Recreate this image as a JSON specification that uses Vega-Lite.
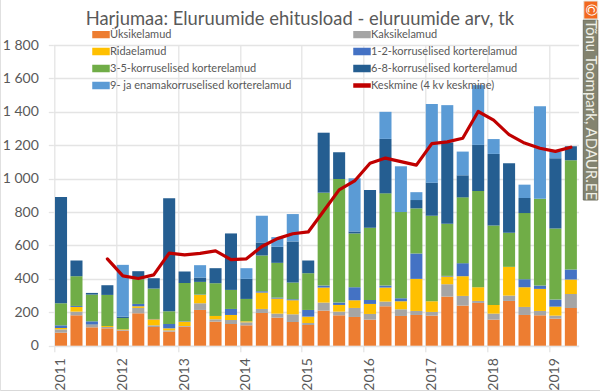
{
"$schema":"https://vega.github.io/schema/vega-lite/v6.json",
"width":525.3,"height":300.7,
"autosize":"none",
"padding":{"left":53.3,"top":45,"right":21.4,"bottom":46.3},
"background":"white",
"config":{"font":"Lato","view":{"stroke":null}},
"title":{"text":"Harjumaa: Eluruumide ehitusload - eluruumide arv, tk","font":"Lato","fontSize":18.4,"fontWeight":"normal","color":"#595959","anchor":"middle","frame":"group","dx":-16,"offset":-44},
"datasets":{
"bars":[
{"q":"2011Q1","n":1,"s":"Üksikelamud","v":78},{"q":"2011Q1","n":2,"s":"Kaksikelamud","v":20},{"q":"2011Q1","n":3,"s":"Ridaelamud","v":8},{"q":"2011Q1","n":4,"s":"1-2-korruselised korterelamud","v":16},{"q":"2011Q1","n":5,"s":"3-5-korruselised korterelamud","v":132},{"q":"2011Q1","n":6,"s":"6-8-korruselised korterelamud","v":636},
{"q":"2011Q2","n":1,"s":"Üksikelamud","v":182},{"q":"2011Q2","n":2,"s":"Kaksikelamud","v":22},{"q":"2011Q2","n":3,"s":"Ridaelamud","v":28},{"q":"2011Q2","n":4,"s":"1-2-korruselised korterelamud","v":6},{"q":"2011Q2","n":5,"s":"3-5-korruselised korterelamud","v":178},{"q":"2011Q2","n":6,"s":"6-8-korruselised korterelamud","v":94},
{"q":"2011Q3","n":1,"s":"Üksikelamud","v":110},{"q":"2011Q3","n":2,"s":"Kaksikelamud","v":14},{"q":"2011Q3","n":3,"s":"Ridaelamud","v":2},{"q":"2011Q3","n":4,"s":"1-2-korruselised korterelamud","v":20},{"q":"2011Q3","n":5,"s":"3-5-korruselised korterelamud","v":160},{"q":"2011Q3","n":6,"s":"6-8-korruselised korterelamud","v":10},
{"q":"2011Q4","n":1,"s":"Üksikelamud","v":104},{"q":"2011Q4","n":2,"s":"Kaksikelamud","v":8},{"q":"2011Q4","n":3,"s":"Ridaelamud","v":6},{"q":"2011Q4","n":5,"s":"3-5-korruselised korterelamud","v":186},{"q":"2011Q4","n":6,"s":"6-8-korruselised korterelamud","v":58},
{"q":"2012Q1","n":1,"s":"Üksikelamud","v":90},{"q":"2012Q1","n":2,"s":"Kaksikelamud","v":4},{"q":"2012Q1","n":3,"s":"Ridaelamud","v":4},{"q":"2012Q1","n":5,"s":"3-5-korruselised korterelamud","v":68},{"q":"2012Q1","n":6,"s":"6-8-korruselised korterelamud","v":8},{"q":"2012Q1","n":7,"s":"9- ja enamakorruselised korterelamud","v":310},
{"q":"2012Q2","n":1,"s":"Üksikelamud","v":194},{"q":"2012Q2","n":2,"s":"Kaksikelamud","v":32},{"q":"2012Q2","n":3,"s":"Ridaelamud","v":10},{"q":"2012Q2","n":4,"s":"1-2-korruselised korterelamud","v":14},{"q":"2012Q2","n":5,"s":"3-5-korruselised korterelamud","v":148},{"q":"2012Q2","n":6,"s":"6-8-korruselised korterelamud","v":48},
{"q":"2012Q3","n":1,"s":"Üksikelamud","v":112},{"q":"2012Q3","n":2,"s":"Kaksikelamud","v":10},{"q":"2012Q3","n":3,"s":"Ridaelamud","v":36},{"q":"2012Q3","n":4,"s":"1-2-korruselised korterelamud","v":2},{"q":"2012Q3","n":5,"s":"3-5-korruselised korterelamud","v":182},{"q":"2012Q3","n":6,"s":"6-8-korruselised korterelamud","v":62},
{"q":"2012Q4","n":1,"s":"Üksikelamud","v":84},{"q":"2012Q4","n":2,"s":"Kaksikelamud","v":8},{"q":"2012Q4","n":3,"s":"Ridaelamud","v":12},{"q":"2012Q4","n":4,"s":"1-2-korruselised korterelamud","v":26},{"q":"2012Q4","n":5,"s":"3-5-korruselised korterelamud","v":76},{"q":"2012Q4","n":6,"s":"6-8-korruselised korterelamud","v":676},
{"q":"2013Q1","n":1,"s":"Üksikelamud","v":114},{"q":"2013Q1","n":2,"s":"Kaksikelamud","v":4},{"q":"2013Q1","n":3,"s":"Ridaelamud","v":26},{"q":"2013Q1","n":4,"s":"1-2-korruselised korterelamud","v":2},{"q":"2013Q1","n":5,"s":"3-5-korruselised korterelamud","v":230},{"q":"2013Q1","n":6,"s":"6-8-korruselised korterelamud","v":68},
{"q":"2013Q2","n":1,"s":"Üksikelamud","v":214},{"q":"2013Q2","n":2,"s":"Kaksikelamud","v":40},{"q":"2013Q2","n":3,"s":"Ridaelamud","v":50},{"q":"2013Q2","n":4,"s":"1-2-korruselised korterelamud","v":2},{"q":"2013Q2","n":5,"s":"3-5-korruselised korterelamud","v":76},{"q":"2013Q2","n":6,"s":"6-8-korruselised korterelamud","v":26},{"q":"2013Q2","n":7,"s":"9- ja enamakorruselised korterelamud","v":74},
{"q":"2013Q3","n":1,"s":"Üksikelamud","v":144},{"q":"2013Q3","n":2,"s":"Kaksikelamud","v":14},{"q":"2013Q3","n":3,"s":"Ridaelamud","v":20},{"q":"2013Q3","n":5,"s":"3-5-korruselised korterelamud","v":196},{"q":"2013Q3","n":6,"s":"6-8-korruselised korterelamud","v":90},
{"q":"2013Q4","n":1,"s":"Üksikelamud","v":130},{"q":"2013Q4","n":2,"s":"Kaksikelamud","v":24},{"q":"2013Q4","n":3,"s":"Ridaelamud","v":30},{"q":"2013Q4","n":4,"s":"1-2-korruselised korterelamud","v":36},{"q":"2013Q4","n":5,"s":"3-5-korruselised korterelamud","v":114},{"q":"2013Q4","n":6,"s":"6-8-korruselised korterelamud","v":338},
{"q":"2014Q1","n":1,"s":"Üksikelamud","v":122},{"q":"2014Q1","n":2,"s":"Kaksikelamud","v":18},{"q":"2014Q1","n":3,"s":"Ridaelamud","v":6},{"q":"2014Q1","n":5,"s":"3-5-korruselised korterelamud","v":134},{"q":"2014Q1","n":6,"s":"6-8-korruselised korterelamud","v":120},{"q":"2014Q1","n":7,"s":"9- ja enamakorruselised korterelamud","v":64},
{"q":"2014Q2","n":1,"s":"Üksikelamud","v":196},{"q":"2014Q2","n":2,"s":"Kaksikelamud","v":24},{"q":"2014Q2","n":3,"s":"Ridaelamud","v":98},{"q":"2014Q2","n":4,"s":"1-2-korruselised korterelamud","v":8},{"q":"2014Q2","n":5,"s":"3-5-korruselised korterelamud","v":214},{"q":"2014Q2","n":6,"s":"6-8-korruselised korterelamud","v":78},{"q":"2014Q2","n":7,"s":"9- ja enamakorruselised korterelamud","v":160},
{"q":"2014Q3","n":1,"s":"Üksikelamud","v":168},{"q":"2014Q3","n":2,"s":"Kaksikelamud","v":24},{"q":"2014Q3","n":3,"s":"Ridaelamud","v":90},{"q":"2014Q3","n":4,"s":"1-2-korruselised korterelamud","v":6},{"q":"2014Q3","n":5,"s":"3-5-korruselised korterelamud","v":208},{"q":"2014Q3","n":6,"s":"6-8-korruselised korterelamud","v":96},{"q":"2014Q3","n":7,"s":"9- ja enamakorruselised korterelamud","v":58},
{"q":"2014Q4","n":1,"s":"Üksikelamud","v":142},{"q":"2014Q4","n":2,"s":"Kaksikelamud","v":46},{"q":"2014Q4","n":3,"s":"Ridaelamud","v":84},{"q":"2014Q4","n":4,"s":"1-2-korruselised korterelamud","v":6},{"q":"2014Q4","n":5,"s":"3-5-korruselised korterelamud","v":100},{"q":"2014Q4","n":6,"s":"6-8-korruselised korterelamud","v":246},{"q":"2014Q4","n":7,"s":"9- ja enamakorruselised korterelamud","v":164},
{"q":"2015Q1","n":1,"s":"Üksikelamud","v":124},{"q":"2015Q1","n":2,"s":"Kaksikelamud","v":12},{"q":"2015Q1","n":3,"s":"Ridaelamud","v":38},{"q":"2015Q1","n":4,"s":"1-2-korruselised korterelamud","v":40},{"q":"2015Q1","n":5,"s":"3-5-korruselised korterelamud","v":220},{"q":"2015Q1","n":6,"s":"6-8-korruselised korterelamud","v":76},
{"q":"2015Q2","n":1,"s":"Üksikelamud","v":210},{"q":"2015Q2","n":2,"s":"Kaksikelamud","v":48},{"q":"2015Q2","n":3,"s":"Ridaelamud","v":90},{"q":"2015Q2","n":4,"s":"1-2-korruselised korterelamud","v":12},{"q":"2015Q2","n":5,"s":"3-5-korruselised korterelamud","v":556},{"q":"2015Q2","n":6,"s":"6-8-korruselised korterelamud","v":359},
{"q":"2015Q3","n":1,"s":"Üksikelamud","v":182},{"q":"2015Q3","n":2,"s":"Kaksikelamud","v":22},{"q":"2015Q3","n":3,"s":"Ridaelamud","v":40},{"q":"2015Q3","n":4,"s":"1-2-korruselised korterelamud","v":14},{"q":"2015Q3","n":5,"s":"3-5-korruselised korterelamud","v":740},{"q":"2015Q3","n":6,"s":"6-8-korruselised korterelamud","v":160},
{"q":"2015Q4","n":1,"s":"Üksikelamud","v":172},{"q":"2015Q4","n":2,"s":"Kaksikelamud","v":54},{"q":"2015Q4","n":3,"s":"Ridaelamud","v":46},{"q":"2015Q4","n":4,"s":"1-2-korruselised korterelamud","v":78},{"q":"2015Q4","n":5,"s":"3-5-korruselised korterelamud","v":322},{"q":"2015Q4","n":6,"s":"6-8-korruselised korterelamud","v":12},{"q":"2015Q4","n":7,"s":"9- ja enamakorruselised korterelamud","v":318},
{"q":"2016Q1","n":1,"s":"Üksikelamud","v":156},{"q":"2016Q1","n":2,"s":"Kaksikelamud","v":34},{"q":"2016Q1","n":3,"s":"Ridaelamud","v":60},{"q":"2016Q1","n":4,"s":"1-2-korruselised korterelamud","v":24},{"q":"2016Q1","n":5,"s":"3-5-korruselised korterelamud","v":432},{"q":"2016Q1","n":6,"s":"6-8-korruselised korterelamud","v":226},
{"q":"2016Q2","n":1,"s":"Üksikelamud","v":236},{"q":"2016Q2","n":2,"s":"Kaksikelamud","v":28},{"q":"2016Q2","n":3,"s":"Ridaelamud","v":84},{"q":"2016Q2","n":4,"s":"1-2-korruselised korterelamud","v":12},{"q":"2016Q2","n":5,"s":"3-5-korruselised korterelamud","v":552},{"q":"2016Q2","n":6,"s":"6-8-korruselised korterelamud","v":326},{"q":"2016Q2","n":7,"s":"9- ja enamakorruselised korterelamud","v":162},
{"q":"2016Q3","n":1,"s":"Üksikelamud","v":178},{"q":"2016Q3","n":2,"s":"Kaksikelamud","v":40},{"q":"2016Q3","n":3,"s":"Ridaelamud","v":48},{"q":"2016Q3","n":4,"s":"1-2-korruselised korterelamud","v":18},{"q":"2016Q3","n":5,"s":"3-5-korruselised korterelamud","v":516},{"q":"2016Q3","n":7,"s":"9- ja enamakorruselised korterelamud","v":274},
{"q":"2016Q4","n":1,"s":"Üksikelamud","v":184},{"q":"2016Q4","n":2,"s":"Kaksikelamud","v":24},{"q":"2016Q4","n":3,"s":"Ridaelamud","v":192},{"q":"2016Q4","n":4,"s":"1-2-korruselised korterelamud","v":152},{"q":"2016Q4","n":5,"s":"3-5-korruselised korterelamud","v":270},{"q":"2016Q4","n":6,"s":"6-8-korruselised korterelamud","v":50},{"q":"2016Q4","n":7,"s":"9- ja enamakorruselised korterelamud","v":47},
{"q":"2017Q1","n":1,"s":"Üksikelamud","v":180},{"q":"2017Q1","n":2,"s":"Kaksikelamud","v":22},{"q":"2017Q1","n":3,"s":"Ridaelamud","v":64},{"q":"2017Q1","n":5,"s":"3-5-korruselised korterelamud","v":512},{"q":"2017Q1","n":6,"s":"6-8-korruselised korterelamud","v":198},{"q":"2017Q1","n":7,"s":"9- ja enamakorruselised korterelamud","v":471},
{"q":"2017Q2","n":1,"s":"Üksikelamud","v":294},{"q":"2017Q2","n":2,"s":"Kaksikelamud","v":74},{"q":"2017Q2","n":3,"s":"Ridaelamud","v":46},{"q":"2017Q2","n":4,"s":"1-2-korruselised korterelamud","v":4},{"q":"2017Q2","n":5,"s":"3-5-korruselised korterelamud","v":312},{"q":"2017Q2","n":6,"s":"6-8-korruselised korterelamud","v":486},{"q":"2017Q2","n":7,"s":"9- ja enamakorruselised korterelamud","v":224},
{"q":"2017Q3","n":1,"s":"Üksikelamud","v":240},{"q":"2017Q3","n":2,"s":"Kaksikelamud","v":58},{"q":"2017Q3","n":3,"s":"Ridaelamud","v":118},{"q":"2017Q3","n":4,"s":"1-2-korruselised korterelamud","v":78},{"q":"2017Q3","n":5,"s":"3-5-korruselised korterelamud","v":394},{"q":"2017Q3","n":6,"s":"6-8-korruselised korterelamud","v":132},{"q":"2017Q3","n":7,"s":"9- ja enamakorruselised korterelamud","v":142},
{"q":"2017Q4","n":1,"s":"Üksikelamud","v":256},{"q":"2017Q4","n":2,"s":"Kaksikelamud","v":12},{"q":"2017Q4","n":3,"s":"Ridaelamud","v":82},{"q":"2017Q4","n":5,"s":"3-5-korruselised korterelamud","v":576},{"q":"2017Q4","n":6,"s":"6-8-korruselised korterelamud","v":276},{"q":"2017Q4","n":7,"s":"9- ja enamakorruselised korterelamud","v":358},
{"q":"2018Q1","n":1,"s":"Üksikelamud","v":156},{"q":"2018Q1","n":2,"s":"Kaksikelamud","v":36},{"q":"2018Q1","n":3,"s":"Ridaelamud","v":52},{"q":"2018Q1","n":5,"s":"3-5-korruselised korterelamud","v":476},{"q":"2018Q1","n":6,"s":"6-8-korruselised korterelamud","v":428},{"q":"2018Q1","n":7,"s":"9- ja enamakorruselised korterelamud","v":89},
{"q":"2018Q2","n":1,"s":"Üksikelamud","v":268},{"q":"2018Q2","n":2,"s":"Kaksikelamud","v":32},{"q":"2018Q2","n":3,"s":"Ridaelamud","v":172},{"q":"2018Q2","n":5,"s":"3-5-korruselised korterelamud","v":204},{"q":"2018Q2","n":6,"s":"6-8-korruselised korterelamud","v":416},
{"q":"2018Q3","n":1,"s":"Üksikelamud","v":184},{"q":"2018Q3","n":2,"s":"Kaksikelamud","v":48},{"q":"2018Q3","n":3,"s":"Ridaelamud","v":118},{"q":"2018Q3","n":4,"s":"1-2-korruselised korterelamud","v":48},{"q":"2018Q3","n":5,"s":"3-5-korruselised korterelamud","v":396},{"q":"2018Q3","n":6,"s":"6-8-korruselised korterelamud","v":90},{"q":"2018Q3","n":7,"s":"9- ja enamakorruselised korterelamud","v":80},
{"q":"2018Q4","n":1,"s":"Üksikelamud","v":182},{"q":"2018Q4","n":2,"s":"Kaksikelamud","v":26},{"q":"2018Q4","n":3,"s":"Ridaelamud","v":132},{"q":"2018Q4","n":4,"s":"1-2-korruselised korterelamud","v":20},{"q":"2018Q4","n":5,"s":"3-5-korruselised korterelamud","v":520},{"q":"2018Q4","n":7,"s":"9- ja enamakorruselised korterelamud","v":553},
{"q":"2019Q1","n":1,"s":"Üksikelamud","v":162},{"q":"2019Q1","n":2,"s":"Kaksikelamud","v":18},{"q":"2019Q1","n":3,"s":"Ridaelamud","v":54},{"q":"2019Q1","n":4,"s":"1-2-korruselised korterelamud","v":42},{"q":"2019Q1","n":5,"s":"3-5-korruselised korterelamud","v":426},{"q":"2019Q1","n":6,"s":"6-8-korruselised korterelamud","v":420},{"q":"2019Q1","n":7,"s":"9- ja enamakorruselised korterelamud","v":40},
{"q":"2019Q2","n":1,"s":"Üksikelamud","v":226},{"q":"2019Q2","n":2,"s":"Kaksikelamud","v":84},{"q":"2019Q2","n":3,"s":"Ridaelamud","v":86},{"q":"2019Q2","n":4,"s":"1-2-korruselised korterelamud","v":60},{"q":"2019Q2","n":5,"s":"3-5-korruselised korterelamud","v":654},{"q":"2019Q2","n":6,"s":"6-8-korruselised korterelamud","v":84}
],
"avg":[
{"q":"2011Q4","s":"Keskmine (4 kv keskmine)","v":520},{"q":"2012Q1","s":"Keskmine (4 kv keskmine)","v":418},{"q":"2012Q2","s":"Keskmine (4 kv keskmine)","v":402},{"q":"2012Q3","s":"Keskmine (4 kv keskmine)","v":424},{"q":"2012Q4","s":"Keskmine (4 kv keskmine)","v":554},
{"q":"2013Q1","s":"Keskmine (4 kv keskmine)","v":544},{"q":"2013Q2","s":"Keskmine (4 kv keskmine)","v":553},{"q":"2013Q3","s":"Keskmine (4 kv keskmine)","v":568},{"q":"2013Q4","s":"Keskmine (4 kv keskmine)","v":515},
{"q":"2014Q1","s":"Keskmine (4 kv keskmine)","v":520},{"q":"2014Q2","s":"Keskmine (4 kv keskmine)","v":594},{"q":"2014Q3","s":"Keskmine (4 kv keskmine)","v":641},{"q":"2014Q4","s":"Keskmine (4 kv keskmine)","v":670},
{"q":"2015Q1","s":"Keskmine (4 kv keskmine)","v":681},{"q":"2015Q2","s":"Keskmine (4 kv keskmine)","v":806},{"q":"2015Q3","s":"Keskmine (4 kv keskmine)","v":933},{"q":"2015Q4","s":"Keskmine (4 kv keskmine)","v":986},
{"q":"2016Q1","s":"Keskmine (4 kv keskmine)","v":1092},{"q":"2016Q2","s":"Keskmine (4 kv keskmine)","v":1123},{"q":"2016Q3","s":"Keskmine (4 kv keskmine)","v":1102},{"q":"2016Q4","s":"Keskmine (4 kv keskmine)","v":1081},
{"q":"2017Q1","s":"Keskmine (4 kv keskmine)","v":1210},{"q":"2017Q2","s":"Keskmine (4 kv keskmine)","v":1220},{"q":"2017Q3","s":"Keskmine (4 kv keskmine)","v":1242},{"q":"2017Q4","s":"Keskmine (4 kv keskmine)","v":1402},
{"q":"2018Q1","s":"Keskmine (4 kv keskmine)","v":1350},{"q":"2018Q2","s":"Keskmine (4 kv keskmine)","v":1263},{"q":"2018Q3","s":"Keskmine (4 kv keskmine)","v":1213},{"q":"2018Q4","s":"Keskmine (4 kv keskmine)","v":1182},
{"q":"2019Q1","s":"Keskmine (4 kv keskmine)","v":1163},{"q":"2019Q2","s":"Keskmine (4 kv keskmine)","v":1188}
]
},
"encoding":{
  "x":{"field":"q","type":"ordinal","title":null,
   "scale":{"domain":["2011Q1","2011Q2","2011Q3","2011Q4","2012Q1","2012Q2","2012Q3","2012Q4","2013Q1","2013Q2","2013Q3","2013Q4","2014Q1","2014Q2","2014Q3","2014Q4","2015Q1","2015Q2","2015Q3","2015Q4","2016Q1","2016Q2","2016Q3","2016Q4","2017Q1","2017Q2","2017Q3","2017Q4","2018Q1","2018Q2","2018Q3","2018Q4","2019Q1","2019Q2"],"paddingInner":0.22,"paddingOuter":0.11},
   "axis":{"values":["2011Q1","2012Q1","2013Q1","2014Q1","2015Q1","2016Q1","2017Q1","2018Q1","2019Q1"],"labelExpr":"slice(datum.label,0,4)","bandPosition":0,"labelAngle":270,"labelAlign":"right","labelBaseline":"middle","labelFontSize":14,"labelColor":"#595959","labelFont":"Lato","labelPadding":6,"grid":true,"gridColor":"#E4E4E4","gridWidth":1.3,"ticks":true,"tickColor":"#E4E4E4","tickWidth":1.3,"tickSize":6,"domainColor":"#E4E4E4","domainWidth":1.3,"labelBound":false,"labelOverlap":false,
    "encoding":{"labels":{"update":{"angle":{"value":270},"align":{"value":"right"},"baseline":{"value":"middle"}}}}}},
  "y":{"field":"v","type":"quantitative","title":null,
   "scale":{"domain":[0,1800],"nice":false},
   "axis":{"values":[0,200,400,600,800,1000,1200,1400,1600,1800],"labelExpr":"replace(format(datum.value,','),',',' ')","labelFontSize":14,"labelColor":"#595959","labelFont":"Lato","labelPadding":10,"labelOverlap":false,"labelBound":false,"grid":true,"gridColor":"#E4E4E4","gridWidth":1.3,"tickColor":"#E4E4E4","tickWidth":1.3,"tickSize":5,"domain":false}},
  "color":{"field":"s","type":"nominal",
   "scale":{"domain":["Üksikelamud","Kaksikelamud","Ridaelamud","1-2-korruselised korterelamud","3-5-korruselised korterelamud","6-8-korruselised korterelamud","9- ja enamakorruselised korterelamud","Keskmine (4 kv keskmine)"],"range":["#ED7D31","#A5A5A5","#FFC000","#4472C4","#70AD47","#255E91","#5B9BD5","#C00000"]},
   "legend":{"title":null,"orient":"none","direction":"horizontal","legendX":38.7,"legendY":-19.5,"columns":2,"columnPadding":59,"rowPadding":2,"labelFont":"Lato","labelFontSize":11,"labelColor":"#595959","labelOffset":0,"symbolSize":256,"labelLimit":300,
    "encode":{"symbols":{"update":{"shape":{"signal":"datum.value=='Keskmine (4 kv keskmine)' ? 'M-1,-0.19H1V0.19H-1Z' : 'M-1,-0.36H1V0.36H-1Z'"},"fill":{"scale":"color","field":"value"},"stroke":{"value":"transparent"},"opacity":{"value":1}}}}}}
},
"layer":[
{"data":{"values":[{}]},"mark":{"type":"rect","fill":"transparent","stroke":"#D9D9D9","strokeWidth":1},"encoding":{"color":{"value":"transparent"},"x":{"value":-53},"x2":{"value":560},"y":{"value":-60},"y2":{"value":345.5}}},
{"data":{"name":"bars"},
 "mark":{"type":"bar"},
 "encoding":{"order":{"field":"n","type":"quantitative"}}},
{"data":{"name":"avg"},
 "mark":{"type":"line","strokeWidth":3.2,"strokeJoin":"round","strokeCap":"round"}},
{"data":{"values":[{}]},"mark":{"type":"rect","fill":"#83836F","stroke":"#6E6E5E","strokeWidth":1},"encoding":{"color":{"value":"#83836F"},"x":{"value":530},"x2":{"value":544.5},"y":{"value":-25},"y2":{"value":155}}},
{"data":{"values":[{}]},"mark":{"type":"rect","fill":"#F2691E","stroke":"#E8E8E0","strokeWidth":1},"encoding":{"color":{"value":"#F2691E"},"x":{"value":530.5},"x2":{"value":544.5},"y":{"value":-44},"y2":{"value":-26}}},
{"data":{"values":[{}]},"mark":{"type":"text","text":"©","font":"Lato","fontSize":15,"angle":90,"align":"center","baseline":"middle"},"encoding":{"color":{"value":"white"},"x":{"value":537.5},"y":{"value":-35}}},
{"data":{"values":[{}]},"mark":{"type":"text","text":"Tõnu Toompark, ADAUR.EE","font":"Lato","fontSize":15,"angle":90,"align":"center","baseline":"middle"},"encoding":{"color":{"value":"#EFEFE6"},"x":{"value":537.5},"y":{"value":65}}}
]
}
